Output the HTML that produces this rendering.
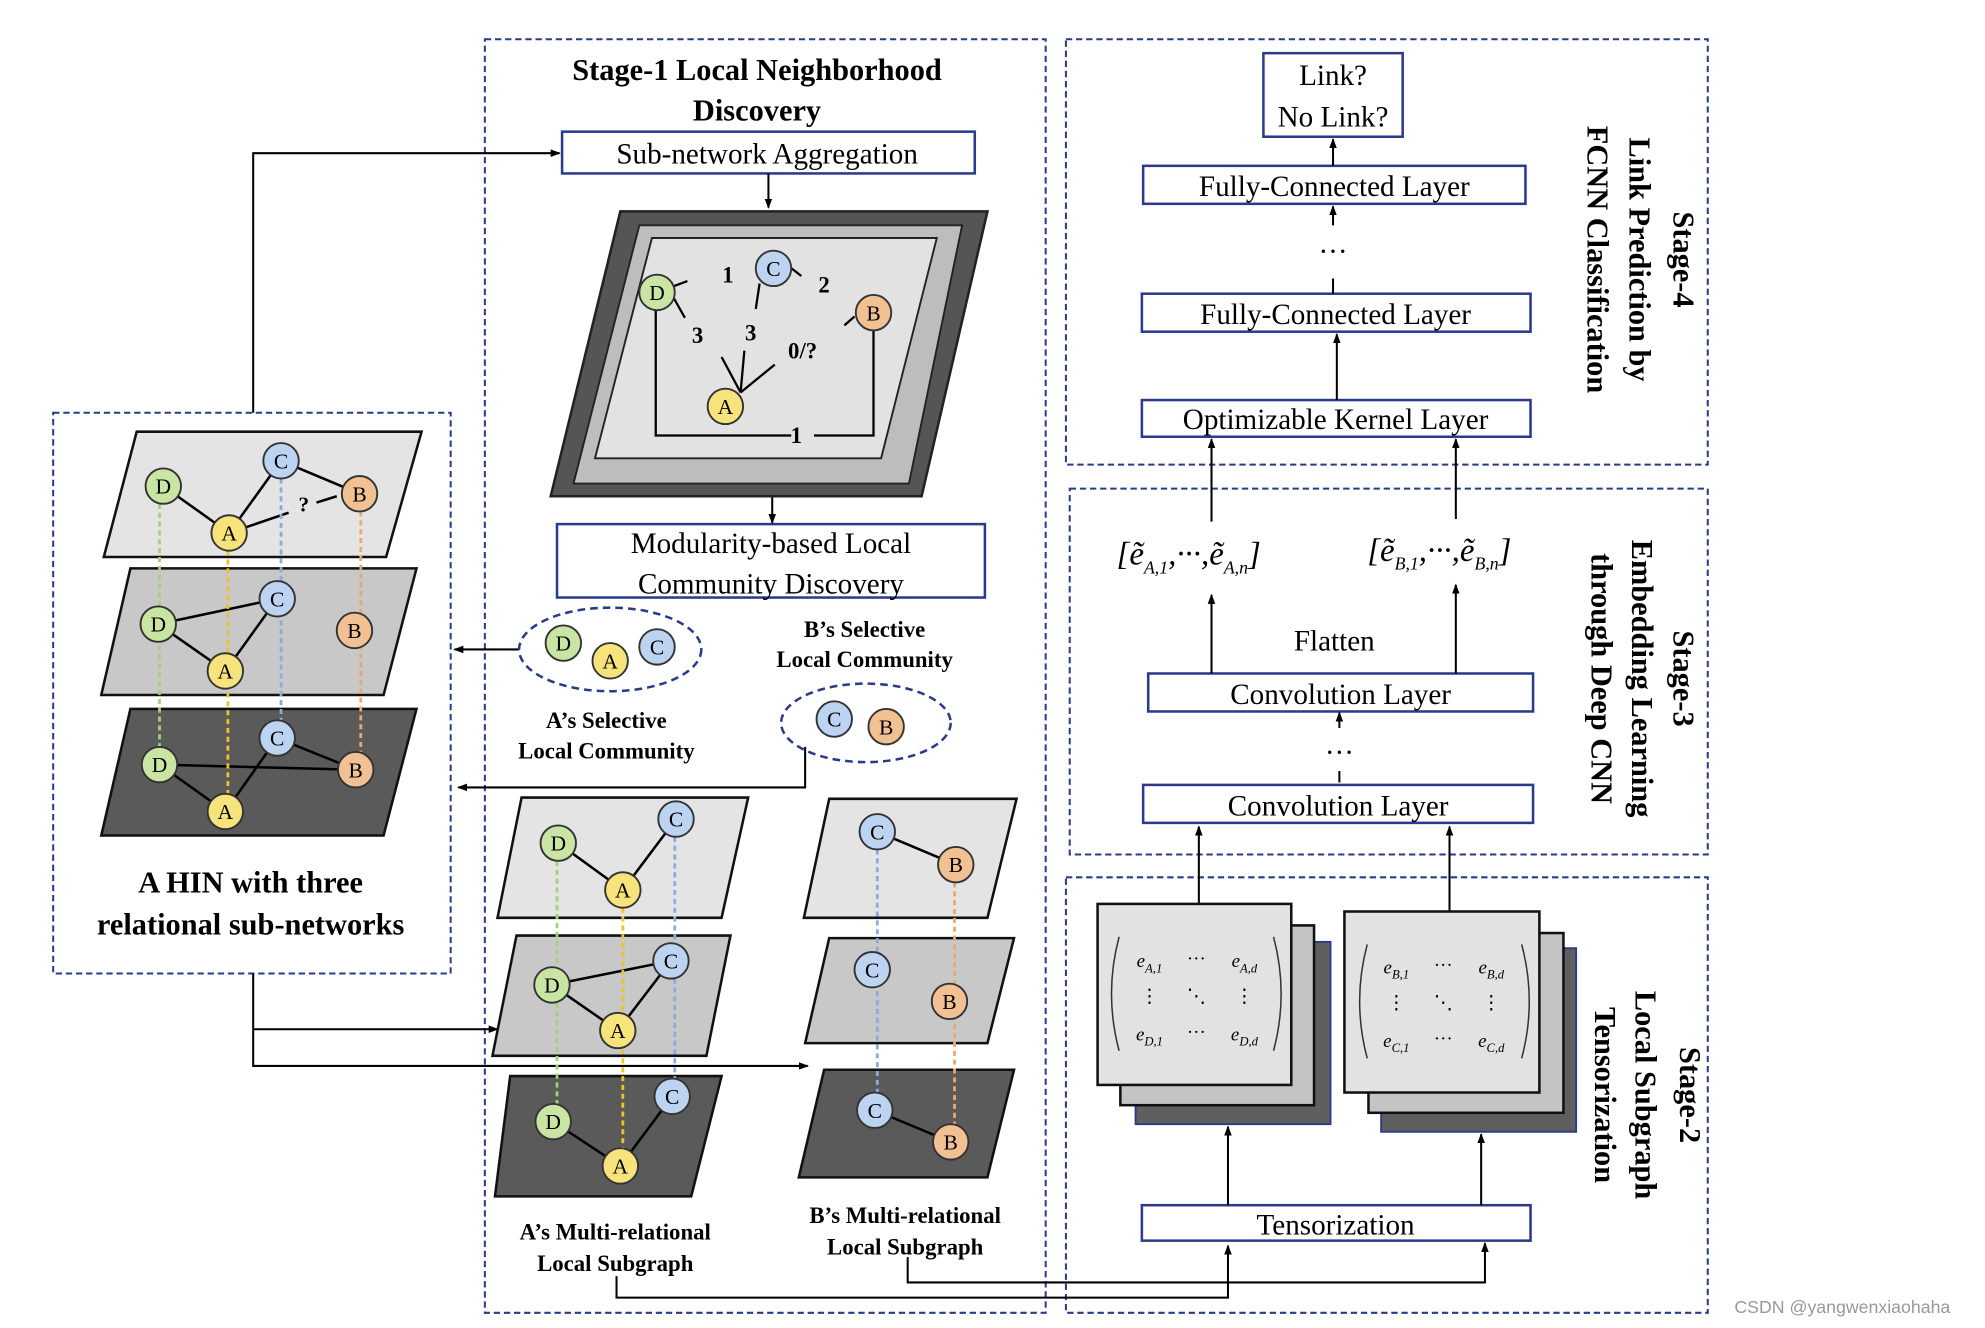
<!DOCTYPE html>
<html><head><meta charset="utf-8"><style>
html,body{margin:0;padding:0;background:#fff;}
svg{display:block;}
text{font-family:"Liberation Serif",serif;}
</style></head><body>
<svg width="1985" height="1328" viewBox="0 0 1568 1049" preserveAspectRatio="none" xmlns="http://www.w3.org/2000/svg">
<defs>
<marker id="ar" markerWidth="8" markerHeight="8" refX="7" refY="4" orient="auto" markerUnits="userSpaceOnUse"><path d="M0,1 L8,4 L0,7 z" fill="#000"/></marker>
</defs>
<rect width="1568" height="1049" fill="#fff"/>
<g fill="none" stroke="#2b3b8c" stroke-width="1.6" stroke-dasharray="5,3">
<rect x="383" y="31" width="443" height="1006"/>
<rect x="842" y="31" width="507" height="336"/>
<rect x="845" y="386" width="504" height="289"/>
<rect x="842" y="693" width="507" height="344"/>
<rect x="42" y="326" width="314" height="443"/>
</g>
<g font-weight="bold" font-size="24" text-anchor="middle">
<text x="598" y="63">Stage-1 Local Neighborhood</text>
<text x="598" y="95">Discovery</text>
<text x="198" y="705">A HIN with three</text>
<text x="198" y="738">relational sub-networks</text>
</g>
<g fill="#fff" stroke="#2b3b8c" stroke-width="2">
<rect x="444" y="104" width="326" height="33"/>
<rect x="440" y="414" width="338" height="58"/>
<rect x="998" y="42" width="110" height="66"/>
<rect x="903" y="131" width="302" height="30"/>
<rect x="902" y="232" width="307" height="30"/>
<rect x="902" y="316" width="307" height="29"/>
<rect x="907" y="532" width="304" height="30"/>
<rect x="903" y="620" width="308" height="30"/>
<rect x="902" y="952" width="307" height="28"/>
</g>
<g font-size="23" text-anchor="middle">
<text x="606" y="129">Sub-network Aggregation</text>
<text x="609" y="437">Modularity-based Local</text>
<text x="609" y="469">Community Discovery</text>
<text x="1053" y="67">Link?</text>
<text x="1053" y="100">No Link?</text>
<text x="1054" y="155">Fully-Connected Layer</text>
<text x="1055" y="256">Fully-Connected Layer</text>
<text x="1055" y="339">Optimizable Kernel Layer</text>
<text x="1059" y="556">Convolution Layer</text>
<text x="1057" y="644">Convolution Layer</text>
<text x="1055" y="975">Tensorization</text>
<text x="1054" y="514">Flatten</text>
<text x="1053" y="206">···</text>
<text x="1058" y="602">···</text>
</g>
<g stroke="#000" stroke-width="1.6" fill="none">
<path d="M200,326 V121 H442" marker-end="url(#ar)"/>
<path d="M607,137 V164" marker-end="url(#ar)"/>
<path d="M610,392 V413" marker-end="url(#ar)"/>
<path d="M410,513 H359" marker-end="url(#ar)"/>
<path d="M636,590 V622 H362" marker-end="url(#ar)"/>
<path d="M200,769 V842 H638" marker-end="url(#ar)"/>
<path d="M200,813 H393" marker-end="url(#ar)"/>
<path d="M487,1008 V1025 H970 V984" marker-end="url(#ar)"/>
<path d="M717,993 V1013 H1173 V982" marker-end="url(#ar)"/>
<path d="M970,952 V890" marker-end="url(#ar)"/>
<path d="M1170,952 V896" marker-end="url(#ar)"/>
<path d="M947,714 V653" marker-end="url(#ar)"/>
<path d="M1145,720 V653" marker-end="url(#ar)"/>
<path d="M1058,618 V609"/>
<path d="M1058,575 V563" marker-end="url(#ar)"/>
<path d="M957,532 V470" marker-end="url(#ar)"/>
<path d="M1150,532 V462" marker-end="url(#ar)"/>
<path d="M957,412 V347" marker-end="url(#ar)"/>
<path d="M1150,410 V347" marker-end="url(#ar)"/>
<path d="M1056,316 V264" marker-end="url(#ar)"/>
<path d="M1053,220 V232"/>
<path d="M1053,178 V163" marker-end="url(#ar)"/>
<path d="M1053,131 V110" marker-end="url(#ar)"/>
</g>
<polygon points="490,167 780,167 728,392 435,392" fill="#555" stroke="#222" stroke-width="2"/>
<polygon points="505,178 760,178 718,382 453,382" fill="#bdbdbd" stroke="#222" stroke-width="1.5"/>
<polygon points="515,188 740,188 696,362 470,362" fill="#e2e2e2" stroke="#222" stroke-width="1.5"/>
<g stroke="#000" stroke-width="1.8" fill="none">
<path d="M519,231 L543,222 M599,210 L604,208 M518,245 V344 H625 M643,344 H690 V260 M624,211 L633,218 M675,250 L667,257 M532,235 L541,251 M600,224 L597,244 M585,310 L570,282 M585,310 L588,277 M585,310 L612,288"/>
</g>
<g font-weight="bold" font-size="18" text-anchor="middle">
<text x="575" y="223">1</text><text x="651" y="231">2</text>
<text x="551" y="271">3</text><text x="593" y="269">3</text>
<text x="634" y="283">0/?</text><text x="629" y="350">1</text>
</g>
<polygon points="108,341 333,341 305,440 82,440" fill="#e4e4e4" stroke="#111" stroke-width="2"/>
<polygon points="103,449 329,449 303,549 80,549" fill="#c8c8c8" stroke="#111" stroke-width="2"/>
<polygon points="103,560 329,560 303,660 80,660" fill="#5a5a5a" stroke="#111" stroke-width="2"/>
<polygon points="412,630 591,630 570,725 393,725" fill="#e4e4e4" stroke="#111" stroke-width="2"/>
<polygon points="408,739 577,739 558,834 389,834" fill="#c8c8c8" stroke="#111" stroke-width="2"/>
<polygon points="403,850 570,850 546,945 391,945" fill="#5a5a5a" stroke="#111" stroke-width="2"/>
<polygon points="655,631 803,631 780,725 635,725" fill="#e4e4e4" stroke="#111" stroke-width="2"/>
<polygon points="655,741 801,741 780,824 636,824" fill="#c8c8c8" stroke="#111" stroke-width="2"/>
<polygon points="651,845 801,845 780,930 631,930" fill="#5a5a5a" stroke="#111" stroke-width="2"/>
<g stroke="#000" stroke-width="2" fill="none">
<path d="M129,384 L181,421 L222,364 L284,390 M181,421 L228,405 M250,397 L266,392"/>
<path d="M125,493 L219,473 M125,493 L178,530 L219,473"/>
<path d="M126,604 L281,608 M126,604 L178,641 L219,583 L281,608"/>
<path d="M441,666 L492,703 L534,647"/>
<path d="M436,778 L530,759 M436,778 L488,814 L530,759"/>
<path d="M437,886 L490,921 L531,866"/>
<path d="M693,657 L755,683 M691,877 L751,902"/>
</g>
<g stroke-width="2.2" stroke-dasharray="4,3" fill="none">
<path stroke="#a6cf7a" d="M126,384 V604 M440,666 V886"/>
<path stroke="#efc22a" d="M180,421 V641 M492,703 V921"/>
<path stroke="#8ea8e0" d="M222,364 V583 M533,647 V866 M693,657 V877"/>
<path stroke="#e9a870" d="M285,390 V608 M754,683 V902"/>
</g>
<g stroke="#333" stroke-width="1.5">
<g fill="#c9e5a3">
<circle cx="519" cy="231" r="14"/><circle cx="129" cy="384" r="14"/><circle cx="125" cy="493" r="14"/><circle cx="126" cy="604" r="14"/>
<circle cx="441" cy="666" r="14"/><circle cx="436" cy="778" r="14"/><circle cx="437" cy="886" r="14"/><circle cx="445" cy="508" r="14"/>
</g>
<g fill="#bcd3f2">
<circle cx="611" cy="212" r="14"/><circle cx="222" cy="364" r="14"/><circle cx="219" cy="473" r="14"/><circle cx="219" cy="583" r="14"/>
<circle cx="534" cy="647" r="14"/><circle cx="530" cy="759" r="14"/><circle cx="531" cy="866" r="14"/><circle cx="519" cy="511" r="14"/>
<circle cx="659" cy="568" r="14"/><circle cx="693" cy="657" r="14"/><circle cx="689" cy="766" r="14"/><circle cx="691" cy="877" r="14"/>
</g>
<g fill="#f6e37c">
<circle cx="573" cy="321" r="14"/><circle cx="181" cy="421" r="14"/><circle cx="178" cy="530" r="14"/><circle cx="178" cy="641" r="14"/>
<circle cx="492" cy="703" r="14"/><circle cx="488" cy="814" r="14"/><circle cx="490" cy="921" r="14"/><circle cx="482" cy="522" r="14"/>
</g>
<g fill="#f1c194">
<circle cx="690" cy="247" r="14"/><circle cx="284" cy="390" r="14"/><circle cx="280" cy="498" r="14"/><circle cx="281" cy="608" r="14"/>
<circle cx="700" cy="574" r="14"/><circle cx="755" cy="683" r="14"/><circle cx="750" cy="791" r="14"/><circle cx="751" cy="902" r="14"/>
</g>
</g>
<g font-size="17" text-anchor="middle">
<text x="519" y="237">D</text><text x="129" y="390">D</text><text x="125" y="499">D</text><text x="126" y="610">D</text>
<text x="441" y="672">D</text><text x="436" y="784">D</text><text x="437" y="892">D</text><text x="445" y="514">D</text>
<text x="611" y="218">C</text><text x="222" y="370">C</text><text x="219" y="479">C</text><text x="219" y="589">C</text>
<text x="534" y="653">C</text><text x="530" y="765">C</text><text x="531" y="872">C</text><text x="519" y="517">C</text>
<text x="659" y="574">C</text><text x="693" y="663">C</text><text x="689" y="772">C</text><text x="691" y="883">C</text>
<text x="573" y="327">A</text><text x="181" y="427">A</text><text x="178" y="536">A</text><text x="178" y="647">A</text>
<text x="492" y="709">A</text><text x="488" y="820">A</text><text x="490" y="927">A</text><text x="482" y="528">A</text>
<text x="690" y="253">B</text><text x="284" y="396">B</text><text x="280" y="504">B</text><text x="281" y="614">B</text>
<text x="700" y="580">B</text><text x="755" y="689">B</text><text x="750" y="797">B</text><text x="751" y="908">B</text>
<text x="240" y="404" font-weight="bold">?</text>
</g>
<g fill="none" stroke="#2b3b8c" stroke-width="2" stroke-dasharray="6,4">
<ellipse cx="482" cy="513" rx="72" ry="33"/>
<ellipse cx="684" cy="571" rx="67" ry="31"/>
</g>
<g font-weight="bold" font-size="18" text-anchor="middle">
<text x="683" y="503">B’s Selective</text><text x="683" y="527">Local Community</text>
<text x="479" y="575">A’s Selective</text><text x="479" y="599">Local Community</text>
<text x="486" y="979">A’s Multi-relational</text><text x="486" y="1004">Local Subgraph</text>
<text x="715" y="966">B’s Multi-relational</text><text x="715" y="991">Local Subgraph</text>
</g>
<rect x="897" y="744" width="154" height="144" fill="#5f5f5f" stroke="#2b3b8c" stroke-width="1.5"/>
<rect x="885" y="731" width="153" height="142" fill="#c4c4c4" stroke="#111" stroke-width="2"/>
<rect x="867" y="714" width="153" height="143" fill="#e2e2e2" stroke="#111" stroke-width="2"/>
<rect x="1091" y="749" width="154" height="145" fill="#5f5f5f" stroke="#2b3b8c" stroke-width="1.5"/>
<rect x="1081" y="737" width="154" height="142" fill="#c4c4c4" stroke="#111" stroke-width="2"/>
<rect x="1062" y="720" width="154" height="143" fill="#e2e2e2" stroke="#111" stroke-width="2"/>
<g fill="none" stroke="#333" stroke-width="1.2">
<path d="M884,740 Q872,785 884,830 M1006,740 Q1018,785 1006,830"/>
<path d="M1080,746 Q1068,791 1080,836 M1202,746 Q1214,791 1202,836"/>
</g>
<g font-size="15" font-style="italic" text-anchor="middle">
<text x="908" y="764">e<tspan font-size="10" dy="4">A,1</tspan></text>
<text x="983" y="764">e<tspan font-size="10" dy="4">A,d</tspan></text>
<text x="908" y="822">e<tspan font-size="10" dy="4">D,1</tspan></text>
<text x="983" y="822">e<tspan font-size="10" dy="4">D,d</tspan></text>
<text x="1103" y="769">e<tspan font-size="10" dy="4">B,1</tspan></text>
<text x="1178" y="769">e<tspan font-size="10" dy="4">B,d</tspan></text>
<text x="1103" y="827">e<tspan font-size="10" dy="4">C,1</tspan></text>
<text x="1178" y="827">e<tspan font-size="10" dy="4">C,d</tspan></text>
</g>
<g font-size="15" text-anchor="middle">
<text x="945" y="762">···</text><text x="945" y="820">···</text><text x="908" y="792">⋮</text><text x="983" y="792">⋮</text><text x="945" y="792">⋱</text>
<text x="1140" y="767">···</text><text x="1140" y="825">···</text><text x="1103" y="797">⋮</text><text x="1178" y="797">⋮</text><text x="1140" y="797">⋱</text>
</g>
<g font-size="26" font-style="italic">
<text x="882" y="446">[ẽ<tspan font-size="14" dy="7">A,1</tspan><tspan dy="-7">,···,ẽ</tspan><tspan font-size="14" dy="7">A,n</tspan><tspan dy="-7">]</tspan></text>
<text x="1080" y="443">[ẽ<tspan font-size="14" dy="7">B,1</tspan><tspan dy="-7">,···,ẽ</tspan><tspan font-size="14" dy="7">B,n</tspan><tspan dy="-7">]</tspan></text>
</g>
<g font-weight="bold" font-size="24" text-anchor="middle">
<text transform="translate(1322,205) rotate(90)">Stage-4</text>
<text transform="translate(1287,205) rotate(90)">Link Prediction by</text>
<text transform="translate(1254,205) rotate(90)">FCNN Classification</text>
<text transform="translate(1322,536) rotate(90)">Stage-3</text>
<text transform="translate(1289,536) rotate(90)">Embedding Learning</text>
<text transform="translate(1257,536) rotate(90)">through Deep CNN</text>
<text transform="translate(1327,865) rotate(90)">Stage-2</text>
<text transform="translate(1292,865) rotate(90)">Local Subgraph</text>
<text transform="translate(1260,865) rotate(90)">Tensorization</text>
</g>
<text x="1370" y="1037" font-size="14" fill="#999" style="font-family:'Liberation Sans',sans-serif">CSDN @yangwenxiaohaha</text>
</svg>
</body></html>
